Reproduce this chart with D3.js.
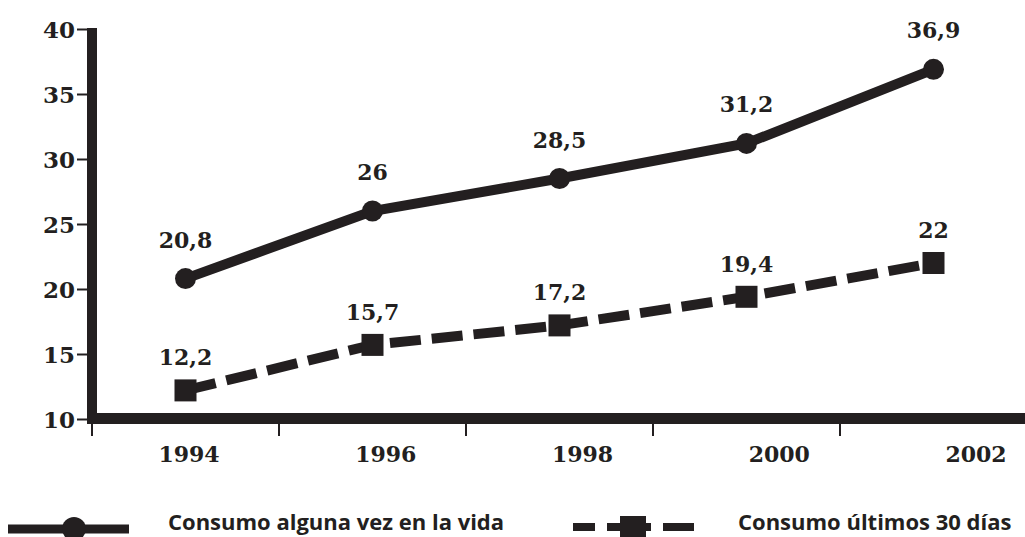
<!DOCTYPE html>
<html><head><meta charset="utf-8">
<script src="https://cdn.jsdelivr.net/npm/d3@7"></script>
<style>
html,body{margin:0;padding:0;background:#fff;}
svg{display:block;}
</style></head>
<body>
<script>
const years = ["1994","1996","1998","2000","2002"];
const vidaValues = [20.8, 26, 28.5, 31.2, 36.9];
const ultimosValues = [12.2, 15.7, 17.2, 19.4, 22];
const yTickValues = [10, 15, 20, 25, 30, 35, 40];
const seriesNames = ["Consumo alguna vez en la vida", "Consumo últimos 30 días"];

const W = 1025, H = 537;
const ink = "#231f20";
const numFont = "'DejaVu Serif', serif";
const legFont = "'Open Sans', 'Noto Sans', sans-serif";

const svg = d3.select("body").append("svg").attr("width", W).attr("height", H);

const x = d3.scaleBand().domain(years).range([92, 1027]);
const xLabel = d3.scalePoint().domain(years).range([189, 976]);
const y = d3.scaleLinear().domain([10, 40]).range([419, 29]);
const fmt = v => String(v).replace(".", ",");
const cx = d => x(d) + x.bandwidth() / 2;

// y axis
const yAxis = svg.append("g").attr("transform", "translate(87,0)")
  .call(d3.axisLeft(y).tickValues(yTickValues).tickSize(10).tickPadding(2).tickFormat(d3.format("d")));
yAxis.select(".domain").remove();
yAxis.selectAll(".tick line").attr("stroke", ink).attr("stroke-width", 2);
yAxis.selectAll(".tick text").attr("fill", ink).attr("font-family", numFont)
  .attr("font-weight", "bold").attr("font-size", 23).attr("dy", "0.36em");

// x axis boundary ticks
const xg = svg.append("g").attr("transform", "translate(0,424)");
xg.selectAll("line.bt").data(years).join("line").attr("class", "bt")
  .attr("x1", d => x(d)).attr("x2", d => x(d)).attr("y1", 0).attr("y2", 12)
  .attr("stroke", ink).attr("stroke-width", 2);
xg.selectAll("text").data(years).join("text")
  .attr("x", d => xLabel(d)).attr("y", 38).attr("text-anchor", "middle")
  .attr("fill", ink).attr("font-family", numFont).attr("font-weight", "bold").attr("font-size", 22)
  .text(d => d);

// axis lines
svg.append("line").attr("x1", 92).attr("x2", 92).attr("y1", y(40) - 1).attr("y2", 424)
  .attr("stroke", ink).attr("stroke-width", 10);
svg.append("line").attr("x1", 87).attr("x2", W).attr("y1", 418.5).attr("y2", 418.5)
  .attr("stroke", ink).attr("stroke-width", 11);

const line = d3.line().x(d => cx(d.year)).y(d => y(d.v));
const vida = years.map((yr, i) => ({year: yr, v: vidaValues[i]}));
const ult = years.map((yr, i) => ({year: yr, v: ultimosValues[i]}));

svg.append("path").datum(vida).attr("d", line).attr("fill", "none")
  .attr("stroke", ink).attr("stroke-width", 10);
svg.append("path").datum(ult).attr("d", line).attr("fill", "none")
  .attr("stroke", ink).attr("stroke-width", 10).attr("stroke-dasharray", "31 11");

svg.selectAll("circle.pt").data(vida).join("circle").attr("class", "pt")
  .attr("cx", d => cx(d.year)).attr("cy", d => y(d.v)).attr("r", 10.5).attr("fill", ink);
svg.selectAll("rect.pt").data(ult).join("rect").attr("class", "pt")
  .attr("x", d => cx(d.year) - 11).attr("y", d => y(d.v) - 11)
  .attr("width", 22).attr("height", 22).attr("fill", ink);

svg.selectAll("text.lv").data(vida).join("text").attr("class", "lv")
  .attr("x", d => cx(d.year)).attr("y", d => y(d.v) - 31).attr("text-anchor", "middle")
  .attr("fill", ink).attr("font-family", numFont).attr("font-weight", "bold").attr("font-size", 22)
  .text(d => fmt(d.v));
svg.selectAll("text.lu").data(ult).join("text").attr("class", "lu")
  .attr("x", d => cx(d.year)).attr("y", d => y(d.v) - 25).attr("text-anchor", "middle")
  .attr("fill", ink).attr("font-family", numFont).attr("font-weight", "bold").attr("font-size", 22)
  .text(d => fmt(d.v));

// legend
const lg = svg.append("g");
lg.append("line").attr("x1", 8).attr("x2", 129).attr("y1", 529).attr("y2", 529)
  .attr("stroke", ink).attr("stroke-width", 9);
lg.append("circle").attr("cx", 74).attr("cy", 529).attr("r", 12).attr("fill", ink);
lg.append("text").attr("x", 168).attr("y", 530).attr("fill", ink).attr("font-family", legFont)
  .attr("font-weight", "bold").attr("font-size", 22).text(seriesNames[0]);

lg.append("line").attr("x1", 573).attr("x2", 694).attr("y1", 527).attr("y2", 527)
  .attr("stroke", ink).attr("stroke-width", 8).attr("stroke-dasharray", "22 12 44 12 22 0");
lg.append("rect").attr("x", 620).attr("y", 516).attr("width", 26).attr("height", 21).attr("fill", ink);
lg.append("text").attr("x", 738).attr("y", 530).attr("fill", ink).attr("font-family", legFont)
  .attr("font-weight", "bold").attr("font-size", 22).text(seriesNames[1]);
</script>
</body></html>
